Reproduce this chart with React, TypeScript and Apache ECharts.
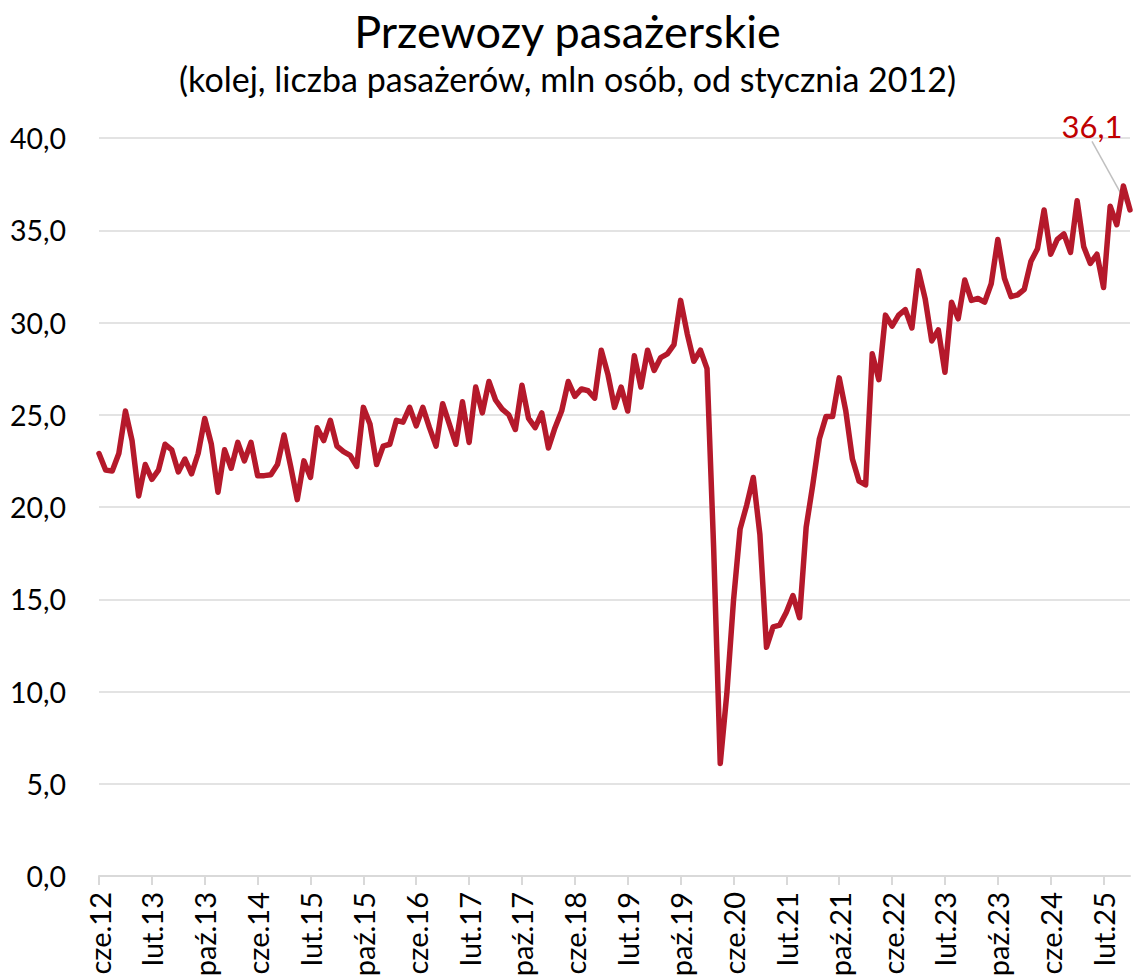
import React, { useEffect, useRef } from "react";
import * as echarts from "echarts";

const MONTHS = ["sty", "lut", "mar", "kwi", "maj", "cze", "lip", "sie", "wrz", "paź", "lis", "gru"];
const START_YEAR = 2012;
const START_MONTH = 5; // cze (June)

const TITLE = "Przewozy pasażerskie";
const SUBTITLE = "(kolej, liczba pasażerów, mln osób, od stycznia 2012)";

const VALUES: number[] = [
  22.9, 22.0, 21.95, 22.9, 25.2, 23.6, 20.6, 22.3, 21.5, 22.0,
  23.4, 23.1, 21.9, 22.6, 21.8, 22.9, 24.8, 23.4, 20.8, 23.1,
  22.1, 23.5, 22.5, 23.5, 21.7, 21.7, 21.75, 22.3, 23.9, 22.2,
  20.4, 22.5, 21.6, 24.3, 23.6, 24.7, 23.3, 23.0, 22.8, 22.2,
  25.4, 24.5, 22.3, 23.3, 23.4, 24.7, 24.6, 25.4, 24.4, 25.4,
  24.3, 23.3, 25.6, 24.5, 23.4, 25.7, 23.5, 26.5, 25.1, 26.8,
  25.8, 25.3, 25.0, 24.2, 26.6, 24.8, 24.3, 25.1, 23.2, 24.3,
  25.2, 26.8, 26.0, 26.4, 26.3, 25.9, 28.5, 27.2, 25.4, 26.5,
  25.2, 28.2, 26.5, 28.5, 27.4, 28.1, 28.3, 28.8, 31.2, 29.4,
  27.9, 28.5, 27.5, 17.8, 6.1, 9.9, 14.9, 18.8, 20.1, 21.6,
  18.5, 12.4, 13.5, 13.6, 14.3, 15.2, 14.0, 18.9, 21.2, 23.7,
  24.9, 24.9, 27.0, 25.2, 22.6, 21.4, 21.2, 28.3, 26.9, 30.4,
  29.8, 30.4, 30.7, 29.7, 32.8, 31.3, 29.0, 29.6, 27.3, 31.1,
  30.2, 32.3, 31.2, 31.3, 31.1, 32.1, 34.5, 32.4, 31.4, 31.5,
  31.8, 33.3, 34.0, 36.1, 33.7, 34.5, 34.8, 33.8, 36.6, 34.1,
  33.2, 33.7, 31.9, 36.3, 35.3, 37.4, 36.1,
];

const CATEGORIES: string[] = VALUES.map((_, i) => {
  const m = START_MONTH + i;
  const y = START_YEAR + Math.floor(m / 12);
  return `${MONTHS[m % 12]}.${String(y % 100).padStart(2, "0")}`;
});

const LAST_INDEX = VALUES.length - 1;
const LAST_POINT: [string, number][] = [[CATEGORIES[LAST_INDEX], VALUES[LAST_INDEX]]];

const FONT = "Lato";
const fmt = (v: number) => v.toFixed(1).replace(".", ",");

export default function App() {
  const ref = useRef<HTMLDivElement>(null);

  useEffect(() => {
    document.body.style.margin = "0";
    if (!ref.current) return;
    const chart = echarts.init(ref.current, undefined, { renderer: "svg" });
    chart.setOption({
      animation: false,
      textStyle: { fontFamily: FONT },
      title: [
        {
          text: TITLE,
          left: "center",
          top: 3,
          textStyle: { fontSize: 45, fontWeight: "normal", color: "#000", fontFamily: FONT },
        },
        {
          text: SUBTITLE,
          left: "center",
          top: 56,
          textStyle: { fontSize: 34, fontWeight: "normal", color: "#000", fontFamily: FONT },
        },
      ],
      grid: { left: 99, right: 5, top: 138, bottom: 104, containLabel: false },
      xAxis: {
        type: "category",
        data: CATEGORIES,
        boundaryGap: false,
        axisLine: { show: true, lineStyle: { color: "#d9d9d9", width: 2 } },
        axisTick: { show: true, interval: 7, length: 9, lineStyle: { color: "#d9d9d9", width: 2 } },
        axisLabel: {
          interval: 7,
          rotate: 90,
          margin: 16,
          color: "#000",
          fontSize: 29,
          fontFamily: FONT,
        },
        splitLine: { show: false },
      },
      yAxis: {
        type: "value",
        min: 0,
        max: 40,
        interval: 5,
        axisLine: { show: false },
        axisTick: { show: false },
        axisLabel: {
          margin: 33,
          color: "#000",
          fontSize: 28.5,
          fontFamily: FONT,
          formatter: (v: number) => fmt(v),
        },
        splitLine: { show: true, lineStyle: { color: "#e3e3e3", width: 2 } },
      },
      series: [
        {
          type: "line",
          data: VALUES,
          showSymbol: false,
          symbol: "none",
          lineStyle: { color: "#B5192B", width: 5.5, join: "round", cap: "round" },
          itemStyle: { color: "#B5192B" },
          z: 2,
        },
        {
          type: "scatter",
          data: LAST_POINT,
          symbolSize: 1,
          itemStyle: { color: "rgba(0,0,0,0)", opacity: 1 },
          label: {
            show: true,
            position: "top",
            distance: 0,
            formatter: (p: any) => fmt(p.value[1]),
            color: "#C00000",
            opacity: 1,
            fontSize: 31,
            fontFamily: FONT,
          },
          labelLine: { show: true, lineStyle: { color: "#c0c0c0", width: 1.5, opacity: 1 } },
          labelLayout: { dx: -38, dy: -68 },
          z: 1,
          silent: true,
        },
      ],
    });
    return () => chart.dispose();
  }, []);

  return <div ref={ref} style={{ width: 1135, height: 980 }} />;
}
